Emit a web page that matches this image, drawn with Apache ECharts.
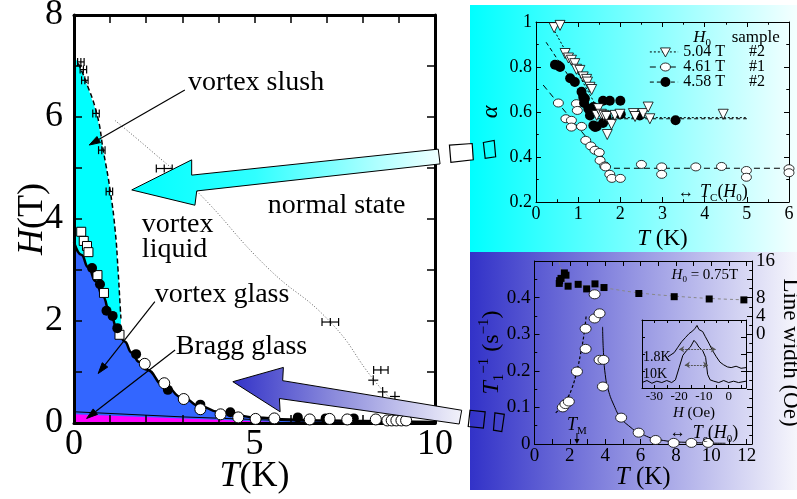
<!DOCTYPE html>
<html>
<head>
<meta charset="utf-8">
<script src="https://cdn.jsdelivr.net/npm/echarts@6.0.0/dist/echarts.min.js"></script>
<style>
html,body{margin:0;padding:0;background:#fff;}
#chart{width:797px;height:499px;}
</style>
</head>
<body>
<div id="chart"></div>
<script>
// ================= Main phase diagram: T (K) vs H (T) =================
const mainTTicks = [0, 5, 10];
const mainHTicks = [0, 2, 4, 6, 8];
const slushBoundary = [[0,7.2],[0.12,7.05],[0.3,6.75],[0.63,6.07],[0.81,5.35],[1.0,4.57],[1.14,3.78],[1.22,3.0],[1.28,2.28],[1.3,2.05]];
const glassLine = [[0,3.55],[0.2,3.3],[0.4,3.05],[0.6,2.78],[0.8,2.48],[1.0,2.15],[1.2,1.85],[1.4,1.6],[1.6,1.38],[1.8,1.2],[2.0,1.05],[2.5,0.74],[3.0,0.5],[3.5,0.33],[4.0,0.22],[4.5,0.15],[5.0,0.11],[6,0.07],[7,0.05],[8,0.04],[9,0.03],[10,0.02]];
const braggFill = [[0,0.17],[3,0.09],[6.3,0.0]];
const braggLine = [[0,0.22],[3,0.12],[6.5,0.03]];
const hc2Guide = [[1.14,5.93],[2.2,5.3],[3.41,4.54],[5.34,3.06],[7.1,1.98],[8.3,0.85],[9.0,0.3]];
const openSquares = [[0.2,3.75],[0.27,3.57],[0.36,3.47],[0.4,3.35],[0.65,2.9],[0.83,2.55],[1.26,1.73]];
const filledCircles = [[0.5,3.04],[0.72,2.72],[0.9,2.2],[1.07,2.1],[1.2,1.86],[1.72,1.35],[2.6,0.65],[3.5,0.36],[4.33,0.21],[6.2,0.11],[6.97,0.09],[7.75,0.09]];
const openCircles = [[1.96,1.16],[2.5,0.78],[3.04,0.47],[3.5,0.27],[4.06,0.17],[4.55,0.11],[5.03,0.08],[5.55,0.09],[6.53,0.07],[7.08,0.08],[7.57,0.07],[8.36,0.07],[8.68,0.05],[8.8,0.05],[8.93,0.05],[9.07,0.05],[9.2,0.05]];
const errBars = [[0.19,7.08,0.09],[0.26,6.93,0.09],[0.3,6.72,0.09],[0.61,6.07,0.09],[0.77,5.35,0.09],[0.98,4.54,0.09],[2.5,4.99,0.22],[7.1,1.98,0.23],[8.5,1.04,0.2],[8.29,0.84,0],[8.55,0.61,0],[8.89,0.52,0]];

// ================= Top inset: alpha vs T =================
const alphaTTicks = [0,1,2,3,4,5,6];
const alphaTicks = [0.2,0.4,0.6,0.8,1];
const tri504 = [[0.43,0.975],[0.57,0.985],[0.69,0.86],[0.77,0.84],[0.84,0.83],[0.92,0.815],[0.96,0.79],[1.04,0.785],[1.12,0.756],[1.2,0.745],[1.22,0.733],[1.28,0.71],[1.32,0.70],[1.44,0.585],[1.48,0.615],[1.55,0.59],[1.61,0.585],[1.67,0.58],[1.69,0.50],[1.79,0.545],[1.87,0.585],[1.99,0.59],[2.31,0.593],[2.35,0.58],[2.54,0.593],[2.66,0.622],[2.7,0.57],[4.44,0.59]];
const fill458 = [[0.45,0.81],[0.53,0.807],[0.57,0.80],[0.81,0.75],[0.92,0.733],[1.08,0.69],[1.12,0.667],[1.16,0.66],[1.14,0.64],[1.24,0.615],[1.28,0.585],[1.36,0.622],[1.36,0.54],[1.4,0.533],[1.44,0.536],[1.59,0.551],[1.67,0.578],[1.59,0.65],[1.75,0.65],[2.0,0.65],[2.01,0.59],[2.46,0.585],[3.31,0.563]];
const open461 = [[0.53,0.64],[0.71,0.57],[0.84,0.563],[0.84,0.533],[0.96,0.637],[0.98,0.607],[1.08,0.536],[1.18,0.474],[1.3,0.449],[1.4,0.43],[1.5,0.42],[1.52,0.385],[1.63,0.36],[1.65,0.356],[1.75,0.323],[1.8,0.305],[2.0,0.305],[2.5,0.367],[2.98,0.356],[2.98,0.323],[3.79,0.356],[4.4,0.358],[4.99,0.34],[4.99,0.31],[6.0,0.348],[6.0,0.33]];
const fit504 = [[0.35,0.99],[1.58,0.575],[5.0,0.575]];
const fit458 = [[0.24,0.91],[1.45,0.57],[5.0,0.57]];
const fit461 = [[0.17,0.72],[1.8,0.35],[6.0,0.35]];

// ================= Bottom inset: 1/T1 and line width vs T =================
const t1TTicks = [0,2,4,6,8,10,12];
const t1Ticks = [0,0.1,0.2,0.3,0.4];
const lwTicks = [0,4,8,12,16];
const t1Circles = [[1.6,0.100],[1.75,0.109],[1.94,0.116],[2.4,0.198],[2.89,0.315],[2.89,0.26],[3.4,0.343],[3.4,0.409],[3.68,0.357],[3.68,0.23],[3.9,0.23],[3.87,0.157],[4.9,0.072],[5.89,0.031],[6.85,0.011],[7.87,0.003],[8.87,0.003],[9.81,0.003]];
const lwSquares = [[1.40,11.1],[1.42,11.7],[1.50,12.2],[1.69,13.4],[1.78,12.9],[1.90,10.5],[2.47,10.9],[2.95,9.9],[3.42,11.0],[3.93,10.2],[5.9,8.9],[7.9,8.2],[9.88,7.7],[11.84,7.5]];
const lwFit = [[1.4,15.8],[1.6,13.2],[1.9,11.2],[2.5,10.8],[3.5,10.4],[4,10.1],[6,9.0],[8,8.3],[10,7.8],[12,7.5]];
const t1FitLow = [[1.2,0.085],[1.5,0.1],[1.8,0.12],[2.1,0.15],[2.4,0.2],[2.6,0.245],[2.8,0.3],[2.92,0.35]];
const t1FitHigh = [[3.85,0.32],[3.9,0.25],[4.0,0.19],[4.17,0.148],[4.5,0.105],[4.87,0.072],[5.4,0.047],[5.9,0.031],[7.0,0.012],[8.9,0.004],[10.8,0.002]];

// ================= Inner inset: NMR spectra vs H (Oe) =================
const specHTicks = [-30,-20,-10,0];
const spec18K = [[-24.5,0.46],[-22,0.52],[-20.5,0.6],[-19,0.68],[-17.5,0.74],[-16,0.8],[-14.5,0.84],[-13.5,0.88],[-12.8,0.92],[-12,0.86],[-10.5,0.83],[-9.5,0.76],[-8,0.66],[-6.5,0.55],[-5,0.46],[-3.5,0.38],[-2,0.34],[-0.5,0.31],[1,0.3],[3,0.32],[5,0.29],[7,0.3]];
const spec10K = [[-35,0.08],[-33,0.11],[-31,0.07],[-29,0.1],[-27,0.08],[-25,0.11],[-23,0.08],[-21.5,0.12],[-20,0.3],[-18.5,0.48],[-17,0.55],[-15.5,0.6],[-14,0.7],[-13,0.66],[-12,0.6],[-10.5,0.55],[-9.3,0.45],[-8.5,0.2],[-7.5,0.12],[-6,0.1],[-4,0.08],[-2,0.11],[0,0.08],[2,0.1],[4,0.08],[7,0.1]];

// ---------------------------------------------------------------------
const FONT = "'Liberation Serif','Times New Roman',serif";
function rich(size){
  const s = Math.round(size*0.62);
  return {
    i:{fontFamily:FONT, fontSize:size, fontStyle:'italic', color:'#000', lineHeight:Math.round(size*1.25)},
    n:{fontFamily:FONT, fontSize:size, color:'#000', lineHeight:Math.round(size*1.25)},
    sub:{fontFamily:FONT, fontSize:s, color:'#000', verticalAlign:'bottom', lineHeight:s+2},
    sup:{fontFamily:FONT, fontSize:s, color:'#000', verticalAlign:'top', lineHeight:s+2}
  };
}
const near = (arr, v) => arr.some(a => Math.abs(a - v) < 1e-6);
function axis(o){
  const lw = o.lw || 1, tl = o.tl || 5;
  const a = {
    type:'value', gridIndex:o.g, position:o.pos, min:o.min, max:o.max, interval:o.interval, z:3,
    splitLine:{show:false},
    axisLine:{show:true, onZero:false, lineStyle:{color:'#000', width:lw}},
    axisTick:{show:true, inside:true, length:tl, lineStyle:{color:'#000', width:o.tw||1}},
    minorTick:{show:!!o.minor, splitNumber:o.minor||2, length:Math.max(2,tl*0.55), lineStyle:{color:'#000', width:o.tw||1}},
    axisLabel:{show:!!o.ticks, interval:0, showMinLabel:true, showMaxLabel:true, hideOverlap:false,
      fontFamily:FONT, fontSize:o.fs||18, color:'#000', margin:o.margin||4,
      formatter: v => (o.ticks && near(o.ticks, v)) ? String(+(+v).toFixed(2)) : ''}
  };
  if (o.name){
    a.name = o.name; a.nameLocation = 'middle'; a.nameGap = o.nameGap; a.nameMoveOverlap = false;
    if (o.nameRotate !== undefined) a.nameRotate = o.nameRotate;
    a.nameTextStyle = {fontFamily:FONT, fontSize:o.nfs, color:'#000', rich:rich(o.nfs)};
  }
  return a;
}

const option = {
  animation:false,
  backgroundColor:'#fff',
  textStyle:{fontFamily:FONT},
  grid:[
    {left:74, top:15, width:361, height:408, outerBoundsMode:'none', containLabel:false},
    {left:536, top:22, width:253, height:180, outerBoundsMode:'none', containLabel:false},
    {left:534.5, top:261, width:217.5, height:183, outerBoundsMode:'none', containLabel:false},
    {left:642, top:320, width:104, height:68, outerBoundsMode:'none', containLabel:false}
  ],
  xAxis:[
    axis({g:0,pos:'bottom',min:0,max:10,interval:1,lw:3,tl:8,tw:1.5,ticks:mainTTicks,fs:36,margin:4,name:'{i|T}{n|(K)}',nameGap:31,nfs:36}),
    axis({g:0,pos:'top',min:0,max:10,interval:1,lw:3,tl:8,tw:1.5}),
    axis({g:1,pos:'bottom',min:0,max:6,interval:1,minor:2,ticks:alphaTTicks,fs:18,margin:3,name:'{i|T}{n| (K)}',nameGap:22,nfs:23}),
    axis({g:1,pos:'top',min:0,max:6,interval:1,minor:2}),
    axis({g:2,pos:'bottom',min:0,max:12.3,interval:1,ticks:t1TTicks,fs:19,margin:3,name:'{i|T}{n| (K)}',nameGap:18,nfs:25}),
    axis({g:2,pos:'top',min:0,max:12.3,interval:1}),
    axis({g:3,pos:'bottom',min:-35,max:7,interval:5,tl:3,ticks:specHTicks,fs:13,margin:2,name:'{i|H}{n| (Oe)}',nameGap:16,nfs:15}),
    axis({g:3,pos:'top',min:-35,max:7,interval:5,tl:3})
  ],
  yAxis:[
    axis({g:0,pos:'left',min:0,max:8,interval:1,lw:3,tl:8,tw:1.5,ticks:mainHTicks,fs:36,margin:11,name:'{i|H}{n|(T)}',nameGap:19,nfs:36}),
    axis({g:0,pos:'right',min:0,max:8,interval:1,lw:3,tl:8,tw:1.5}),
    axis({g:1,pos:'left',min:0.2,max:1,interval:0.2,minor:2,ticks:alphaTicks,fs:18,margin:4,name:'{i|α}',nameGap:30,nfs:24}),
    axis({g:1,pos:'right',min:0.2,max:1,interval:0.2,minor:2}),
    axis({g:2,pos:'left',min:0,max:0.5,interval:0.1,minor:2,ticks:t1Ticks,fs:19,margin:4,name:'{i|T}{sub|1}{sup|−1}{n| (s}{sup|−1}{n|)}',nameGap:28,nfs:24}),
    axis({g:2,pos:'right',min:-24,max:16,interval:4,minor:2,ticks:lwTicks,fs:19,margin:4,name:'{n|Line width (Oe)}',nameGap:24,nameRotate:-90,nfs:23}),
    axis({g:3,pos:'left',min:0,max:1,interval:0.25,tl:3}),
    axis({g:3,pos:'right',min:0,max:1,interval:0.25,tl:0})
  ],
  series:[
    // ---- main
    {type:'line', xAxisIndex:0, yAxisIndex:0, data:slushBoundary, symbol:'none', z:1, lineStyle:{width:0}, areaStyle:{color:'#00ffff', opacity:1}},
    {type:'line', xAxisIndex:0, yAxisIndex:0, data:glassLine, symbol:'none', smooth:true, smoothMonotone:'x', z:1, lineStyle:{color:'#000', width:2.5}, areaStyle:{color:'#3366ff', opacity:1}},
    {type:'line', xAxisIndex:0, yAxisIndex:0, data:braggFill, symbol:'none', z:1, lineStyle:{width:0}, areaStyle:{color:'#ff00ff', opacity:1}},
    {type:'line', xAxisIndex:0, yAxisIndex:0, data:braggLine, symbol:'none', z:2, lineStyle:{color:'#000', width:1}},
    {type:'line', xAxisIndex:0, yAxisIndex:0, data:slushBoundary.slice(1), symbol:'none', smooth:true, z:2, lineStyle:{color:'#000', width:1.5, type:[5,3]}},
    {type:'line', xAxisIndex:0, yAxisIndex:0, data:hc2Guide, symbol:'none', smooth:true, z:2, lineStyle:{color:'#333', width:0.8, type:[1,2]}},
    {type:'scatter', xAxisIndex:0, yAxisIndex:0, data:openSquares, symbol:'rect', symbolSize:9, z:4, clip:false, itemStyle:{color:'#fff', borderColor:'#000', borderWidth:1, opacity:1}},
    {type:'scatter', xAxisIndex:0, yAxisIndex:0, data:filledCircles, symbol:'circle', symbolSize:10, z:4, clip:false, itemStyle:{color:'#000', opacity:1}},
    {type:'scatter', xAxisIndex:0, yAxisIndex:0, data:openCircles, symbol:'circle', symbolSize:11, z:4, clip:false, itemStyle:{color:'#fff', borderColor:'#000', borderWidth:1, opacity:1}},
    {type:'custom', xAxisIndex:0, yAxisIndex:0, data:errBars, z:4, clip:false,
      renderItem:function(params, api){
        const x = api.value(0), y = api.value(1), e = api.value(2);
        const c = api.coord([x,y]);
        const st = {stroke:'#000', lineWidth:1.2, fill:'none'};
        const ch = [];
        if (e > 0){
          const l = api.coord([x-e,y]), r = api.coord([x+e,y]), cap = 4;
          ch.push({type:'line', shape:{x1:l[0],y1:c[1],x2:r[0],y2:c[1]}, style:st});
          ch.push({type:'line', shape:{x1:l[0],y1:c[1]-cap,x2:l[0],y2:c[1]+cap}, style:st});
          ch.push({type:'line', shape:{x1:r[0],y1:c[1]-cap,x2:r[0],y2:c[1]+cap}, style:st});
          ch.push({type:'line', shape:{x1:c[0],y1:c[1]-cap,x2:c[0],y2:c[1]+cap}, style:st});
        } else {
          ch.push({type:'line', shape:{x1:c[0]-5,y1:c[1],x2:c[0]+5,y2:c[1]}, style:st});
          ch.push({type:'line', shape:{x1:c[0],y1:c[1]-5,x2:c[0],y2:c[1]+5}, style:st});
        }
        return {type:'group', children:ch};
      }},
    // ---- top inset
    {type:'line', xAxisIndex:2, yAxisIndex:2, data:fit504, symbol:'none', z:2, lineStyle:{color:'#000', width:1, type:[2,2]}},
    {type:'line', xAxisIndex:2, yAxisIndex:2, data:fit458, symbol:'none', z:2, lineStyle:{color:'#000', width:1, type:[4,3]}},
    {type:'line', xAxisIndex:2, yAxisIndex:2, data:fit461, symbol:'none', z:2, lineStyle:{color:'#000', width:1, type:[6,4]}},
    {type:'scatter', xAxisIndex:2, yAxisIndex:2, data:open461, symbol:'circle', symbolSize:[10,8], z:4, clip:false, itemStyle:{color:'#fff', borderColor:'#000', borderWidth:0.8, opacity:1}},
    {type:'scatter', xAxisIndex:2, yAxisIndex:2, data:fill458, symbol:'circle', symbolSize:10, z:4, clip:false, itemStyle:{color:'#000', opacity:1}},
    {type:'scatter', xAxisIndex:2, yAxisIndex:2, data:tri504, symbol:'triangle', symbolRotate:180, symbolSize:10, z:5, clip:false, itemStyle:{color:'#fff', borderColor:'#000', borderWidth:0.8, opacity:1}},
    // ---- bottom inset
    {type:'line', xAxisIndex:4, yAxisIndex:5, data:lwFit, symbol:'none', smooth:true, z:2, lineStyle:{color:'#888', width:1, type:[3,3]}},
    {type:'scatter', xAxisIndex:4, yAxisIndex:5, data:lwSquares, symbol:'rect', symbolSize:7, z:4, clip:false, itemStyle:{color:'#000', opacity:1}},
    {type:'line', xAxisIndex:4, yAxisIndex:4, data:t1FitLow, symbol:'none', smooth:true, z:2, lineStyle:{color:'#000', width:1.2, type:[3,2]}},
    {type:'line', xAxisIndex:4, yAxisIndex:4, data:t1FitHigh, symbol:'none', smooth:true, z:2, lineStyle:{color:'#000', width:1}},
    {type:'scatter', xAxisIndex:4, yAxisIndex:4, data:t1Circles, symbol:'circle', symbolSize:[11,9], z:4, clip:false, itemStyle:{color:'#fff', borderColor:'#000', borderWidth:0.8, opacity:1}},
    // ---- inner inset
    {type:'line', xAxisIndex:6, yAxisIndex:6, data:spec18K, symbol:'none', z:2, lineStyle:{color:'#000', width:1},
      markLine:{silent:true, symbol:['arrow','arrow'], symbolSize:5, label:{show:false}, lineStyle:{color:'#555', width:1, type:[2,1]},
        data:[[{coord:[-20,0.57]},{coord:[-5.2,0.57]}],[{coord:[-17.7,0.34]},{coord:[-8.3,0.34]}]]}},
    {type:'line', xAxisIndex:6, yAxisIndex:6, data:spec10K, symbol:'none', z:2, lineStyle:{color:'#000', width:1}}
  ]
};

const chart = echarts.init(document.getElementById('chart'), null, {renderer:'canvas'});
chart.setOption(option);

const P = (xi, yi, p) => chart.convertToPixel({xAxisIndex:xi, yAxisIndex:yi}, p);
const P0 = p => P(0,0,p), P1 = p => P(2,2,p), P2 = p => P(4,4,p), P3 = p => P(6,6,p);

// annotation geometry (in data coordinates of the main plot)
const cyanArrow = [[1.60,4.57],[3.26,5.16],[3.26,4.86],[10.09,5.37],[10.14,5.08],[3.40,4.55],[3.35,4.27]];
const blueArrow = [[4.40,0.81],[5.80,1.09],[5.78,0.83],[10.74,0.25],[10.67,-0.02],[5.69,0.48],[5.71,0.22]];
const boxesTop = [[[10.40,5.45],[11.03,5.48],[11.06,5.16],[10.44,5.11]], [[11.34,5.50],[11.64,5.54],[11.68,5.22],[11.39,5.19]]];
const boxesBot = [[[10.97,0.25],[11.39,0.22],[11.34,-0.10],[10.92,-0.07]], [[11.66,0.20],[11.92,0.17],[11.85,-0.17],[11.62,-0.14]]];

const G = [];
// inset backgrounds
G.push({type:'rect', shape:{x:470,y:5,width:327,height:247}, z:-5, silent:true,
  style:{fill:{type:'linear',x:470,y:0,x2:797,y2:0,global:true,colorStops:[{offset:0,color:'#00ffff'},{offset:1,color:'#f4ffff'}]}}});
G.push({type:'rect', shape:{x:470,y:252,width:327,height:238}, z:-5, silent:true,
  style:{fill:{type:'linear',x:470,y:0,x2:797,y2:0,global:true,colorStops:[{offset:0,color:'#3232c8'},{offset:1,color:'#f6f6fc'}]}}});

// big arrows
function bigArrow(pts, stops){
  const px = pts.map(P0);
  const x0 = px[0][0], x1 = Math.max(px[3][0], px[4][0]);
  G.push({type:'polygon', z:50, shape:{points:px},
    style:{stroke:'#000', lineWidth:1, fill:{type:'linear',x:x0,y:0,x2:x1,y2:0,global:true,colorStops:stops}}});
}
bigArrow(cyanArrow, [{offset:0,color:'#00ffff'},{offset:0.4,color:'#30ffff'},{offset:1,color:'#f0ffff'}]);
bigArrow(blueArrow, [{offset:0,color:'#3333c8'},{offset:0.45,color:'#8c8cdc'},{offset:1,color:'#f2f2fa'}]);
boxesTop.concat(boxesBot).forEach((b, i) => {
  G.push({type:'polygon', z:51, shape:{points:b.map(P0)}, style:{stroke:'#000', lineWidth:1.2, fill: i===0 ? '#ffffff' : 'none'}});
});

// text helper
function txt(pt, text, size, align, vAlign){
  G.push({type:'text', z:60, x:pt[0], y:pt[1],
    style:{text:text, rich:rich(size), fill:'#000', fontFamily:FONT, fontSize:size, align:align||'left', verticalAlign:vAlign||'middle'}});
}
function pointer(from, to){
  const a = P0(from), b = P0(to);
  const dx = b[0]-a[0], dy = b[1]-a[1], L = Math.hypot(dx,dy), ux = dx/L, uy = dy/L;
  const hl = 11, hw = 3.5;
  const base = [b[0]-ux*hl, b[1]-uy*hl];
  G.push({type:'line', z:60, shape:{x1:a[0],y1:a[1],x2:base[0],y2:base[1]}, style:{stroke:'#000', lineWidth:1.2}});
  G.push({type:'polygon', z:60, shape:{points:[b,[base[0]-uy*hw, base[1]+ux*hw],[base[0]+uy*hw, base[1]-ux*hw]]}, style:{fill:'#000', stroke:'#000', lineWidth:1}});
}

// main plot annotations
txt(P0([3.16,6.67]), '{n|vortex slush}', 28);
txt(P0([1.88,3.88]), '{n|vortex}', 28);
txt(P0([1.88,3.39]), '{n|liquid}', 28);
txt(P0([5.37,4.27]), '{n|normal state}', 28);
txt(P0([2.24,2.51]), '{n|vortex glass}', 28);
txt(P0([2.82,1.49]), '{n|Bragg glass}', 28);
pointer([3.07,6.53],[0.42,5.45]);
pointer([2.24,2.38],[0.67,0.97]);
pointer([2.80,1.43],[0.35,0.09]);

// top inset legend
txt(P1([3.73,0.929]), '{i|H}{sub|0}', 17);
txt(P1([4.64,0.929]), '{n|sample}', 17);
const legendRows = [
  {y:0.867, label:'5.04 T', tag:'#2', dash:[2,2], mk:'tri'},
  {y:0.800, label:'4.61 T', tag:'#1', dash:[6,4], mk:'open'},
  {y:0.733, label:'4.58 T', tag:'#2', dash:[4,3], mk:'fill'}
];
legendRows.forEach(r => {
  const a = P1([2.70,r.y]), b = P1([3.37,r.y]), m = P1([3.07,r.y]);
  G.push({type:'line', z:60, shape:{x1:a[0],y1:a[1],x2:b[0],y2:b[1]}, style:{stroke:'#000', lineWidth:1, lineDash:r.dash}});
  if (r.mk === 'tri') G.push({type:'polygon', z:61, shape:{points:[[m[0]-5,m[1]-4],[m[0]+5,m[1]-4],[m[0],m[1]+5]]}, style:{fill:'#fff', stroke:'#000', lineWidth:0.8}});
  if (r.mk === 'open') G.push({type:'ellipse', z:61, shape:{cx:m[0],cy:m[1],rx:5,ry:4}, style:{fill:'#fff', stroke:'#000', lineWidth:0.8}});
  if (r.mk === 'fill') G.push({type:'circle', z:61, shape:{cx:m[0],cy:m[1],r:5}, style:{fill:'#000'}});
  txt(P1([3.49,r.y]), '{n|' + r.label + '}', 16);
  txt(P1([5.05,r.y]), '{n|' + r.tag + '}', 16);
});
txt(P1([3.56,0.243]), '{n|↔}', 16, 'center');
txt(P1([3.89,0.243]), '{i|T}{sub|C}{n|(}{i|H}{sub|0}{n|)}', 18);

// bottom inset annotations
txt(P2([7.75,0.462]), '{i|H}{sub|0}{n| = 0.75T}', 15);
txt(P2([2.4,0.052]), '{i|T}{sub|M}', 18, 'center', 'middle');
(function(){
  const a = P2([2.4,0.03]), b = P2([2.4,0.0]);
  G.push({type:'line', z:60, shape:{x1:a[0],y1:a[1],x2:b[0],y2:b[1]-4}, style:{stroke:'#000', lineWidth:1}});
  G.push({type:'polygon', z:60, shape:{points:[[b[0],b[1]],[b[0]-2.5,b[1]-5],[b[0]+2.5,b[1]-5]]}, style:{fill:'#000'}});
})();
txt(P2([8.1,0.03]), '{n|↔}', 16, 'center');
txt(P2([8.95,0.03]), '{i|T}{sub|c}{n|(}{i|H}{sub|0}{n|)}', 18);

// inner inset labels
txt(P3([-34.6,0.45]), '{n|1.8K}', 14);
txt(P3([-34.6,0.2]), '{n|10K}', 14);

chart.setOption({graphic:{elements:G}});
</script>
</body>
</html>
